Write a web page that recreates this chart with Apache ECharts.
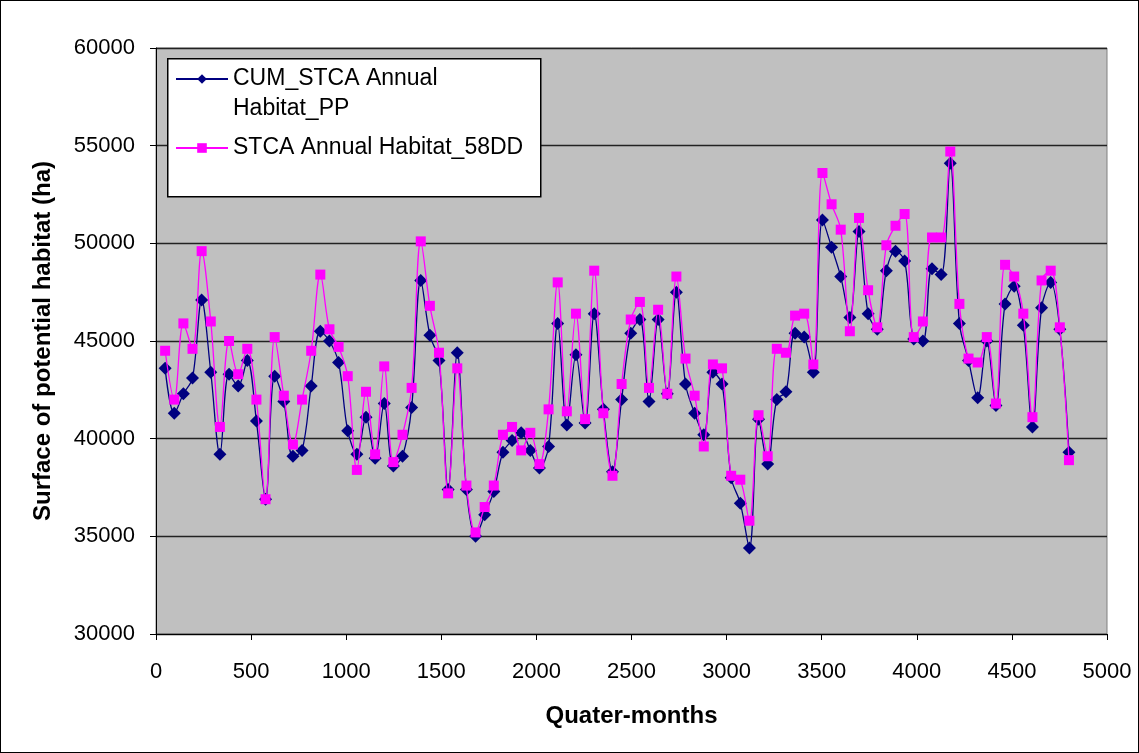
<!DOCTYPE html>
<html>
<head>
<meta charset="utf-8">
<script src="https://cdn.jsdelivr.net/npm/echarts@6/dist/echarts.min.js"></script>
<style>
html,body{margin:0;padding:0;background:#fff;}
#main{width:1137px;height:751px;border:1px solid #000;}
</style>
</head>
<body>
<div id="main"></div>
<script>
// quarter-month steps (48 per year)
var step = 48;
var cumPP = [43600,41300,42300,43100,47100,43400,39200,43300,42700,44000,
	40900,36900,43200,41900,39100,39400,42700,45500,45000,43900,
	40400,39200,41100,39000,41800,38600,39100,41600,48100,45300,
	44000,37400,44400,37400,35000,36100,37300,39300,39900,40300,
	39400,38500,39600,45900,40700,44300,40800,46400,41500,38300,
	42000,45400,46100,41900,46100,42300,47500,42800,41300,40200,
	43400,42800,38000,36700,34400,41000,38700,42000,42400,45400,
	45200,43400,51200,49800,48300,46200,50600,46400,45600,48600,
	49600,49100,45100,45000,48700,48400,54100,45900,44000,42100,
	45000,41700,46900,47800,45800,40600,46700,48000,45600,39300];
var stca58 = [44500,42000,45900,44600,49600,46000,40600,45000,43300,44600,
	42000,36900,45200,42200,39700,42000,44500,48400,45600,44700,
	43200,38400,42400,39200,43700,38800,40200,42600,50100,46800,
	44400,37200,43600,37600,35200,36500,37600,40200,40600,39400,
	40300,38700,41500,48000,41400,46400,41000,48600,41300,38100,
	42800,46100,47000,42600,46600,42300,48300,44100,42200,39600,
	43800,43600,38100,37900,35800,41200,39100,44600,44400,46300,
	46400,43800,53600,52000,50700,45500,51300,47600,45700,49900,
	50900,51500,45200,46000,50300,50300,54700,46900,44100,43900,
	45200,41800,48900,48300,46400,41100,48100,48600,45700,38900];
var seriesNames = ['CUM_STCA Annual Habitat_PP', 'STCA Annual Habitat_58DD'];

function toPairs(arr) {
	var out = [];
	for (var i = 0; i < arr.length; i++) {
		out.push([(i + 1) * step, arr[i]]);
	}
	return out;
}

var font = 'Liberation Sans, Arial, sans-serif';
var myChart = echarts.init(document.getElementById('main'));
myChart.setOption({
	animation: false,
	grid: {
		left: 155, right: 31, top: 47, bottom: 118,
		outerBoundsMode: 'none',
		show: true, backgroundColor: '#c0c0c0', borderColor: '#808080', borderWidth: 1
	},
	// legend frame
	graphic: [{
		type: 'rect', left: 166, top: 57, z: 3,
		shape: { width: 373, height: 138 },
		style: { fill: '#fff', stroke: '#000', lineWidth: 1.5 }
	}],
	legend: {
		orient: 'vertical',
		left: 174, top: 33,
		padding: 0,
		z: 4,
		itemWidth: 52, itemHeight: 12,
		itemGap: 9,
		textStyle: { fontFamily: font, fontSize: 23, color: '#000', lineHeight: 30 },
		// blank first line keeps the marker level with "CUM_STCA Annual"
		formatter: function(name) {
			if (name == seriesNames[0]) return ' \nCUM_STCA Annual\nHabitat_PP';
			return name;
		},
		data: seriesNames
	},
	xAxis: {
		type: 'value', min: 0, max: 5000, interval: 500,
		name: 'Quater-months', nameLocation: 'middle', nameGap: 70,
		nameTextStyle: { fontFamily: font, fontSize: 24, fontWeight: 'bold', color: '#000' },
		axisLine: { show: true, onZero: false, lineStyle: { color: '#000' } },
		axisTick: { show: true, length: 6, lineStyle: { color: '#000' } },
		axisLabel: { fontFamily: font, fontSize: 22, color: '#000', margin: 27,
			formatter: function(v) { return String(v); } },
		splitLine: { show: false }
	},
	yAxis: {
		type: 'value', min: 30000, max: 60000, interval: 5000,
		name: 'Surface of potential habitat (ha)', nameLocation: 'middle', nameGap: 101,
		nameTextStyle: { fontFamily: font, fontSize: 24, fontWeight: 'bold', color: '#000' },
		axisLine: { show: true, lineStyle: { color: '#000' } },
		axisTick: { show: true, length: 6, lineStyle: { color: '#000' } },
		axisLabel: { fontFamily: font, fontSize: 22, color: '#000', margin: 21,
			formatter: function(v) { return String(v); } },
		splitLine: { show: true, lineStyle: { color: '#222', width: 1.4 } }
	},
	series: [{
		name: seriesNames[0],
		type: 'line',
		data: toPairs(cumPP),
		smooth: 0.35,
		symbol: 'diamond', symbolSize: 13,
		itemStyle: { color: '#000080' },
		lineStyle: { color: '#000080', width: 1.3 },
		z: 2
	}, {
		name: seriesNames[1],
		type: 'line',
		data: toPairs(stca58),
		smooth: 0.35,
		symbol: 'rect', symbolSize: 10,
		itemStyle: { color: '#ff00ff' },
		lineStyle: { color: '#ff00ff', width: 1.3 },
		z: 3
	}]
});
</script>
</body>
</html>
